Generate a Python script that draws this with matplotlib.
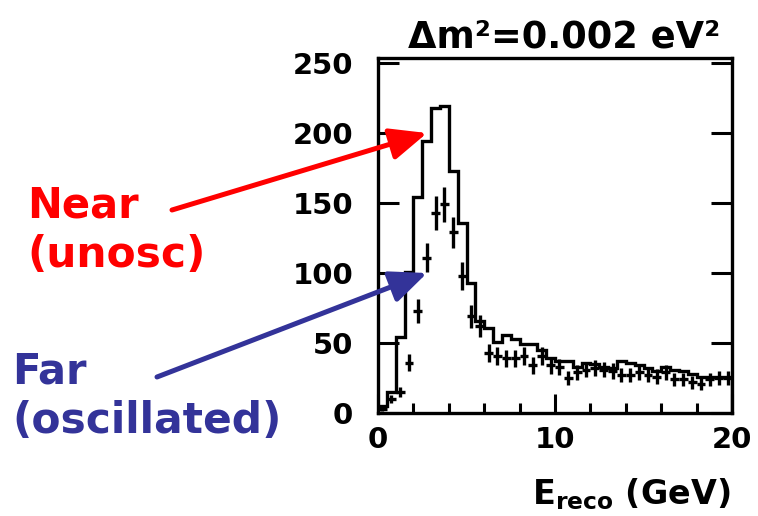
import numpy as np
import matplotlib
matplotlib.use("Agg")
import matplotlib.pyplot as plt

plt.rcParams['font.family'] = ['DejaVu Sans']
plt.rcParams['font.weight'] = 'bold'
plt.rcParams['mathtext.fontset'] = 'dejavusans'

# Reconstructed energy binning (0.5 GeV bins, 0-20 GeV)
edges = np.arange(0, 20.5, 0.5)
centers = 0.5 * (edges[:-1] + edges[1:])

# Near detector spectrum (unoscillated), events per bin
near = [5, 15, 54, 101, 154, 194, 218, 219, 173, 136,
        93, 66, 61, 51, 56, 53, 49, 49, 45, 39,
        37, 37, 33, 36, 35, 33, 32, 37, 36, 34,
        32, 30, 33, 31, 30, 28, 26, 26, 26, 26]

# Far detector spectrum (oscillated), events per bin
far = [3, 10, 15, 36, 73, 111, 143, 149, 129, 98,
       69, 62, 43, 41, 39, 39, 41, 34, 41, 34,
       33, 25, 29, 31, 32, 31, 30, 27, 27, 29,
       27, 26, 29, 24, 24, 22, 21, 24, 25, 25]

W, H = 758, 516
fig = plt.figure(figsize=(W / 100, H / 100), dpi=100)
ax = fig.add_axes([378 / W, (H - 413) / H, (732 - 378) / W, (413 - 58) / H])

# Near: step histogram, Far: points with error bars
ax.stairs(near, edges, color='black', linewidth=2.4, baseline=0)
far_arr = np.array(far, dtype=float)
ax.errorbar(centers, far_arr, yerr=np.sqrt(far_arr), xerr=0.25, fmt='none',
            ecolor='black', elinewidth=2.4, capsize=0)

ax.set_xlim(0, 20)
ax.set_ylim(0, 253.6)
ax.set_xticks([0, 10, 20])
ax.set_xticks(np.arange(0, 21, 2), minor=True)
ax.set_yticks([0, 50, 100, 150, 200, 250])
ax.tick_params(axis='x', which='major', direction='in', length=14, width=2.2,
               labelsize=21, pad=9, top=False)
ax.tick_params(axis='x', which='minor', direction='in', length=7, width=2.2, top=False)
ax.tick_params(axis='y', which='major', direction='in', length=15, width=2.2,
               labelsize=21, pad=18, right=True)
for lab in ax.get_xticklabels() + ax.get_yticklabels():
    lab.set_fontweight('bold')
for sp in ax.spines.values():
    sp.set_linewidth(2.4)

# Title and axis label
fig.text(564 / W, (H - 47) / H, "Δm²=0.002 eV²", ha='center', va='baseline',
         fontsize=26.5, fontweight='bold')
fig.text(730 / W, (H - 504) / H, r"E$_{\mathbf{reco}}$ (GeV)", ha='right', va='baseline',
         fontsize=24, fontweight='bold')

# Labels with arrows
red = '#ff0000'
blue = '#333399'
fig.text(27 / W, (H - 218) / H, "Near", color=red, fontsize=30, fontweight='bold',
         ha='left', va='baseline')
fig.text(27 / W, (H - 267) / H, "(unosc)", color=red, fontsize=30.5, fontweight='bold',
         ha='left', va='baseline')
fig.text(12 / W, (H - 383) / H, "Far", color=blue, fontsize=30, fontweight='bold',
         ha='left', va='baseline')
fig.text(12 / W, (H - 433) / H, "(oscillated)", color=blue, fontsize=30.5, fontweight='bold',
         ha='left', va='baseline')

head = '-|>,head_length=1.5,head_width=0.65'
ax.annotate('', xy=(2.77, 200), xycoords='data',
            xytext=(172, H - 210), textcoords='figure pixels',
            arrowprops=dict(arrowstyle=head, mutation_scale=15, lw=3.6, color=red,
                            shrinkA=0, shrinkB=0),
            annotation_clip=False)
ax.annotate('', xy=(2.77, 100), xycoords='data',
            xytext=(157, H - 377), textcoords='figure pixels',
            arrowprops=dict(arrowstyle=head, mutation_scale=15, lw=3.6, color=blue,
                            shrinkA=0, shrinkB=0),
            annotation_clip=False)

fig.savefig('out.png', dpi=100)
